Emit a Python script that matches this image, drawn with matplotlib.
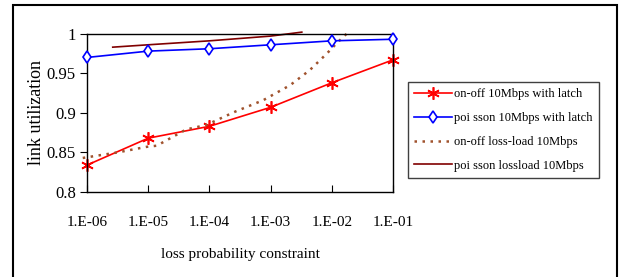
import matplotlib
matplotlib.use("Agg")
import matplotlib.pyplot as plt
from matplotlib.patches import Rectangle

plt.rcParams['font.family'] = ['Liberation Serif', 'DejaVu Serif']

# tick labels (category axis)
loss_labels = ["1.E-06", "1.E-05", "1.E-04", "1.E-03", "1.E-02", "1.E-01"]
cat_x = [0, 1, 2, 3, 4, 5]

# measured series
onoff_latch = [0.834, 0.868, 0.883, 0.907, 0.938, 0.967]
poisson_latch = [0.970, 0.978, 0.981, 0.986, 0.991, 0.993]

# smoothed model curves (positions along the category axis)
onoff_lossload_x = [-0.07, 0.5, 0.97, 1.14, 1.62, 1.95, 2.42, 2.88, 3.32, 3.64, 3.92, 4.08, 4.27]
onoff_lossload_y = [0.843, 0.850, 0.857, 0.8585, 0.879, 0.8847, 0.9015, 0.916, 0.935, 0.954, 0.975, 0.988, 1.002]
poisson_lossload_x = [0.42, 1.0, 2.0, 3.0, 3.51]
poisson_lossload_y = [0.983, 0.986, 0.991, 0.997, 1.002]

fig = plt.figure(figsize=(6.27, 2.77), dpi=100)
ax = fig.add_axes([0.1388, 0.3069, 0.488, 0.5714])

ax.plot(cat_x, onoff_latch, color="#ff0000", lw=1.2, marker=(6, 2, 0),
        markersize=9, markeredgewidth=1.2, label="on-off 10Mbps with latch", clip_on=False)
ax.plot(cat_x, poisson_latch, color="#0000ff", lw=1.2, marker="d",
        markersize=6, markerfacecolor="white", markeredgewidth=1.2,
        label="poi sson 10Mbps with latch", clip_on=False, zorder=3)
ax.plot(onoff_lossload_x, onoff_lossload_y, color="#a0522d", lw=1.8, ls=(0, (1, 2.2)),
        label="on-off loss-load 10Mbps", clip_on=False)
ax.plot(poisson_lossload_x, poisson_lossload_y, color="#800000", lw=1.2,
        label="poi sson lossload 10Mbps", clip_on=False)

ax.set_xlim(0, 5)
ax.set_ylim(0.8, 1.0)
ax.set_xticks(cat_x)
ax.set_xticklabels(loss_labels)
ax.set_yticks([0.8, 0.85, 0.9, 0.95, 1.0])
ax.set_yticklabels(["0.8", "0.85", "0.9", "0.95", "1"])
ax.tick_params(axis="x", direction="in", length=5, labelsize=11, pad=17)
ax.tick_params(axis="y", direction="out", length=5, labelsize=12, pad=3)
ax.set_xlabel("loss probability constraint", fontsize=11, labelpad=14)
ax.set_ylabel("link utilization", fontsize=13, labelpad=1)
for s in ax.spines.values():
    s.set_linewidth(1.0)

fig.legend(loc="upper left", bbox_to_anchor=(0.651, 0.704), bbox_transform=fig.transFigure,
           borderaxespad=0, fontsize=9, handlelength=3.0, handletextpad=0.2,
           labelspacing=0.95, fancybox=False, edgecolor="#404040", framealpha=1,
           borderpad=0.5)

# outer frame, cropped at the bottom
fig.patches.append(Rectangle((13 / 627, -0.1), (617 - 13) / 627, 1.082,
                             transform=fig.transFigure, fill=False,
                             edgecolor="black", lw=1.5))

fig.savefig("out.png", dpi=100)
